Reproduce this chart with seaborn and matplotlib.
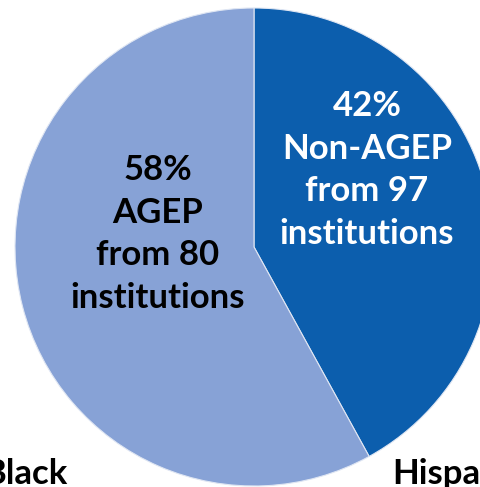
import matplotlib
matplotlib.use("Agg")
import matplotlib.pyplot as plt
import seaborn as sns

# Data
categories = ["Non-AGEP", "AGEP"]
shares = [42, 58]
institutions = [97, 80]
outer_labels = ["Black", "Hispanic"]

sns.set_theme(style="white")
plt.rcParams['font.family'] = ['Lato', 'DejaVu Sans']

colors = ["#0C5EAD", "#87A2D6"]

W, H = 481, 487
fig = plt.figure(figsize=(W / 100, H / 100), dpi=100)
ax = fig.add_axes([0, 0, 1, 1])

cx, cy, r = 254, 247, 239  # pixel geometry of the pie
ax.pie(shares, colors=colors, startangle=90, counterclock=False, radius=1,
       wedgeprops=dict(edgecolor="#dfe6f3", linewidth=0.8))
ax.set_xlim(-cx / r, (W - cx) / r)
ax.set_ylim(-(H - cy) / r, cy / r)
ax.set_aspect("auto")
ax.axis("off")

def fx(px):
    return px / W

def fy(py):
    return 1 - py / H

txt_white = f"{shares[0]}%\n{categories[0]}\nfrom {institutions[0]}\ninstitutions"
txt_black = f"{shares[1]}%\n{categories[1]}\nfrom {institutions[1]}\ninstitutions"

fs = 25
fig.text(fx(367), fy(170), txt_white, color="white", fontsize=fs, fontweight="bold",
         ha="center", va="center", linespacing=1.41)
fig.text(fx(158), fy(234), txt_black, color="black", fontsize=fs, fontweight="bold",
         ha="center", va="center", linespacing=1.41)

fig.text(fx(67), fy(484), outer_labels[0], color="black", fontsize=fs, fontweight="bold",
         ha="right", va="baseline")
fig.text(fx(392), fy(484), outer_labels[1], color="black", fontsize=fs, fontweight="bold",
         ha="left", va="baseline")

fig.savefig("out.png", dpi=100)
